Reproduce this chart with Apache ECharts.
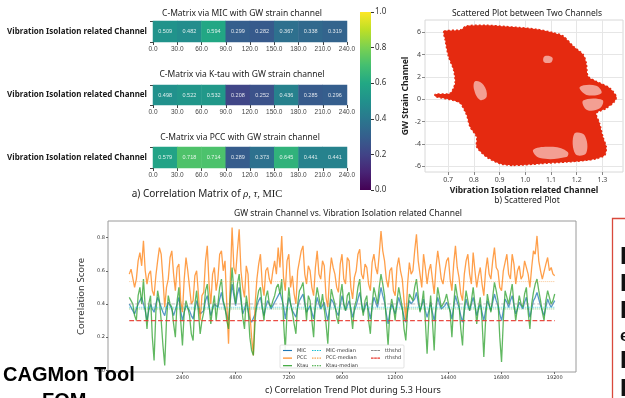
<!DOCTYPE html>
<html><head><meta charset="utf-8">
<script src="https://cdn.jsdelivr.net/npm/echarts@6/dist/echarts.min.js"></script>
<style>html,body{margin:0;padding:0;background:#fff}#c{width:625px;height:398px}</style>
</head><body><div id="c"></div>
<script>
// ---------- data ----------
const heatCols = ['0-30','30-60','60-90','90-120','120-150','150-180','180-210','210-240'];
const heatRow = ['Vibration Isolation related Channel'];
const micValues  = [0.509,0.482,0.594,0.299,0.282,0.367,0.338,0.319];
const ktauValues = [0.498,0.522,0.532,0.208,0.252,0.436,0.285,0.296];
const pccValues  = [0.579,0.718,0.714,0.289,0.373,0.645,0.441,0.441];
const viridis = ['#440154','#482475','#414487','#355f8d','#2a788e','#21918c','#22a884','#44bf70','#7ad151','#bddf26','#fde725'];

// scatter blob outline (x: vibration channel, y: GW strain)
const blobOutline = [[0.684,6.09],[0.747,6.21],[0.772,6.57],[0.850,6.63],[0.927,6.51],[0.979,6.42],[1.044,6.27],[1.108,5.97],[1.147,5.67],[1.186,4.77],[1.225,4.01],[1.237,3.26],[1.244,2.06],[1.276,1.61],[1.328,1.01],[1.354,0.25],[1.347,-0.20],[1.315,-0.80],[1.276,-1.25],[1.289,-2.15],[1.302,-3.36],[1.315,-4.26],[1.309,-5.01],[1.276,-5.31],[1.237,-5.46],[1.160,-5.61],[1.057,-5.76],[0.953,-5.91],[0.902,-5.76],[0.850,-5.16],[0.811,-4.26],[0.811,-3.36],[0.785,-2.45],[0.772,-1.40],[0.747,-0.35],[0.714,-0.05],[0.650,0.25],[0.650,0.46],[0.708,0.55],[0.727,1.46],[0.721,2.66],[0.701,3.86],[0.688,5.37]];
const blobHoles = [
  [[0.805,1.61],[0.837,1.31],[0.850,0.25],[0.824,-0.05],[0.801,0.85]],
  [[1.212,1.10],[1.276,1.22],[1.296,0.55],[1.238,0.40]],
  [[1.225,-0.10],[1.300,-0.05],[1.290,-0.80],[1.240,-0.95]],
  [[1.031,-4.50],[1.108,-4.25],[1.165,-4.70],[1.160,-5.16],[1.057,-5.25]],
  [[1.190,-3.10],[1.230,-3.20],[1.237,-4.80],[1.195,-4.90]],
  [[1.075,3.85],[1.105,3.75],[1.100,3.30],[1.072,3.35]]
];

// correlation trend (one value every 80 s, 0..19200 s)
const trendStep = 80;
const micTrend = [
 0.40,0.38,0.36,0.34,0.33,0.40,0.42,0.44,0.45,0.36,0.30,0.36,0.40,0.37,0.35,0.40,0.44,0.41,0.38,0.35,
 0.33,0.38,0.41,0.39,0.37,0.33,0.32,0.40,0.44,0.36,0.30,0.35,0.39,0.38,0.36,0.33,0.31,0.37,0.42,0.38,
 0.34,0.35,0.36,0.42,0.45,0.38,0.33,0.37,0.40,0.39,0.38,0.43,0.47,0.41,0.37,0.33,0.30,0.42,0.52,0.45,
 0.39,0.46,0.50,0.42,0.34,0.37,0.41,0.36,0.31,0.29,0.28,0.34,0.39,0.42,0.44,0.38,0.33,0.38,0.42,0.40,
 0.37,0.39,0.41,0.43,0.45,0.47,0.48,0.39,0.31,0.38,0.44,0.40,0.36,0.34,0.32,0.38,0.42,0.44,0.46,0.40,
 0.35,0.37,0.39,0.35,0.31,0.38,0.44,0.40,0.37,0.39,0.41,0.35,0.30,0.37,0.43,0.41,0.38,0.35,0.33,0.39,
 0.45,0.40,0.36,0.39,0.42,0.37,0.32,0.36,0.39,0.43,0.47,0.41,0.35,0.38,0.41,0.36,0.31,0.38,0.44,0.41,
 0.38,0.44,0.50,0.45,0.41,0.34,0.28,0.35,0.40,0.37,0.34,0.39,0.44,0.40,0.37,0.32,0.29,0.36,0.42,0.40,
 0.39,0.43,0.47,0.41,0.36,0.39,0.43,0.36,0.32,0.36,0.41,0.35,0.30,0.37,0.44,0.40,0.37,0.38,0.39,0.41,
 0.42,0.36,0.31,0.38,0.45,0.41,0.38,0.33,0.29,0.36,0.43,0.39,0.36,0.40,0.44,0.39,0.33,0.37,0.40,0.35,
 0.30,0.36,0.42,0.39,0.36,0.41,0.46,0.42,0.39,0.34,0.30,0.36,0.43,0.41,0.38,0.42,0.45,0.39,0.34,0.37,
 0.41,0.39,0.37,0.41,0.44,0.38,0.32,0.37,0.42,0.44,0.47,0.43,0.39,0.36,0.33,0.38,0.43,0.40,0.38,0.40,
 0.42];
const pccTrend = [
 0.58,0.61,0.62,0.50,0.55,0.66,0.71,0.63,0.78,0.60,0.52,0.58,0.60,0.48,0.45,0.57,0.66,0.74,0.70,0.55,
 0.38,0.50,0.55,0.68,0.72,0.58,0.48,0.62,0.64,0.42,0.35,0.55,0.68,0.60,0.50,0.40,0.42,0.57,0.60,0.46,
 0.30,0.45,0.47,0.66,0.75,0.52,0.40,0.58,0.62,0.48,0.55,0.70,0.72,0.60,0.66,0.40,0.16,0.55,0.86,0.62,
 0.58,0.72,0.85,0.60,0.50,0.44,0.63,0.58,0.35,0.20,0.09,0.40,0.55,0.64,0.70,0.52,0.45,0.60,0.62,0.55,
 0.52,0.60,0.66,0.58,0.74,0.62,0.81,0.56,0.48,0.66,0.70,0.50,0.57,0.46,0.40,0.60,0.66,0.72,0.75,0.58,
 0.52,0.63,0.60,0.50,0.45,0.62,0.72,0.58,0.55,0.66,0.63,0.44,0.38,0.57,0.68,0.62,0.58,0.50,0.47,0.64,
 0.70,0.55,0.52,0.68,0.66,0.50,0.43,0.56,0.60,0.70,0.73,0.58,0.55,0.64,0.62,0.52,0.48,0.65,0.70,0.62,
 0.58,0.70,0.84,0.72,0.66,0.55,0.50,0.60,0.62,0.48,0.45,0.62,0.68,0.60,0.55,0.42,0.30,0.52,0.65,0.58,
 0.60,0.72,0.82,0.66,0.58,0.50,0.70,0.62,0.52,0.60,0.64,0.55,0.46,0.62,0.72,0.64,0.55,0.52,0.60,0.66,
 0.68,0.55,0.48,0.64,0.75,0.62,0.56,0.46,0.42,0.58,0.66,0.70,0.58,0.52,0.71,0.60,0.50,0.57,0.62,0.52,
 0.45,0.60,0.68,0.58,0.55,0.66,0.74,0.62,0.60,0.50,0.48,0.60,0.65,0.70,0.58,0.55,0.70,0.64,0.52,0.60,
 0.63,0.55,0.57,0.66,0.66,0.58,0.50,0.62,0.72,0.70,0.81,0.66,0.60,0.55,0.55,0.64,0.68,0.60,0.62,0.58,
 0.57];
const ktauTrend = [
 0.44,0.42,0.40,0.33,0.30,0.45,0.50,0.40,0.55,0.38,0.25,0.40,0.45,0.20,0.06,0.35,0.48,0.42,0.30,0.15,
 0.03,0.30,0.45,0.40,0.38,0.28,0.20,0.42,0.50,0.30,0.15,0.35,0.42,0.38,0.33,0.22,0.18,0.40,0.48,0.35,
 0.22,0.30,0.35,0.48,0.52,0.40,0.28,0.38,0.45,0.30,0.40,0.50,0.55,0.42,0.38,0.30,0.25,0.45,0.62,0.48,
 0.40,0.52,0.58,0.45,0.32,0.25,0.45,0.38,0.20,0.12,0.09,0.30,0.42,0.48,0.50,0.38,0.30,0.44,0.48,0.40,
 0.38,0.42,0.45,0.50,0.52,0.46,0.55,0.30,0.12,0.35,0.50,0.40,0.35,0.28,0.22,0.40,0.48,0.50,0.53,0.42,
 0.30,0.45,0.42,0.30,0.20,0.42,0.50,0.44,0.38,0.46,0.45,0.28,0.16,0.38,0.49,0.44,0.40,0.32,0.28,0.45,
 0.52,0.40,0.36,0.45,0.47,0.35,0.25,0.38,0.42,0.50,0.55,0.40,0.33,0.42,0.45,0.30,0.22,0.40,0.50,0.45,
 0.40,0.50,0.58,0.52,0.45,0.30,0.15,0.35,0.43,0.38,0.30,0.42,0.50,0.44,0.38,0.25,0.18,0.36,0.46,0.44,
 0.42,0.50,0.55,0.45,0.35,0.40,0.48,0.30,0.10,0.32,0.45,0.30,0.12,0.38,0.50,0.44,0.38,0.40,0.42,0.46,
 0.47,0.35,0.20,0.40,0.52,0.45,0.40,0.25,0.15,0.38,0.48,0.42,0.36,0.42,0.50,0.40,0.28,0.38,0.44,0.30,
 0.08,0.30,0.46,0.40,0.35,0.44,0.53,0.48,0.42,0.20,0.05,0.30,0.48,0.44,0.40,0.46,0.52,0.40,0.30,0.38,
 0.45,0.40,0.38,0.46,0.50,0.35,0.25,0.40,0.47,0.52,0.55,0.48,0.42,0.35,0.30,0.42,0.48,0.44,0.40,0.42,
 0.46];
const micMedian = 0.38, pccMedian = 0.535, ktauMedian = 0.37, tThreshold = 0.40, rThreshold = 0.30;
const trendXTicks = [2400,4800,7200,9600,12000,14400,16800,19200];
const trendYTicks = [0.0,0.2,0.4,0.6,0.8];
const scatterXTicks = [0.7,0.8,0.9,1.0,1.1,1.2,1.3];
const scatterYTicks = [-6,-4,-2,0,2,4,6];
const cbarTicks = [0,0.2,0.4,0.6,0.8,1.0];

// ---------- chart ----------
const chart = echarts.init(document.getElementById('c'), null, {renderer:'canvas'});
const FONT = '"Noto Sans", "Open Sans", sans-serif';
const t = (arr) => arr.map((v,i)=>[i*trendStep, v]);
const heat = (arr) => arr.map((v,i)=>[i,0,v]);
const heatTops = [21, 85, 147], heatHeights = [21, 20, 21];

const grids = heatTops.map((tp,i)=>({left:153, top:tp, width:194, height:heatHeights[i]}));
grids.push({left:360, top:12, width:11, height:178});
grids.push({left:425, top:20, width:198, height:152, show:true, borderColor:'#d8d8d8', borderWidth:1, backgroundColor:'#fff'});
grids.push({left:108, top:221, width:468, height:151, show:true, borderColor:'#9a9a9a', borderWidth:1});

const xAxes = [], yAxes = [];
for (let g=0; g<3; g++) {
  xAxes.push({type:'category', gridIndex:g, data:heatCols, position:'top', show:false});
  xAxes.push({type:'value', gridIndex:g, min:0, max:240, interval:30, position:'bottom',
    axisLine:{show:false, onZero:false}, splitLine:{show:false},
    axisTick:{show:true, length:3, lineStyle:{color:'#444'}},
    axisLabel:{fontSize:6.5, color:'#444', margin:4, fontFamily:'Liberation Sans', formatter:v=>v.toFixed(1)}});
  yAxes.push({type:'category', gridIndex:g, data:heatRow, axisLine:{show:false, onZero:false},
    axisTick:{show:true, length:3, lineStyle:{color:'#444'}},
    axisLabel:{fontSize:8, color:'#1a1a1a', fontWeight:'bold', margin:6, fontFamily:FONT}});
}
// colorbar
xAxes.push({type:'category', gridIndex:3, data:['cb'], show:false});
yAxes.push({type:'value', gridIndex:3, min:0, max:1, position:'right',
  axisLine:{show:false, onZero:false}, splitLine:{show:false},
  axisTick:{show:true, length:3, customValues:cbarTicks, lineStyle:{color:'#333'}},
  axisLabel:{fontSize:8, color:'#333', margin:4, fontFamily:FONT, customValues:cbarTicks, formatter:v=>v.toFixed(1)}});
// scatter
xAxes.push({type:'value', gridIndex:4, min:0.61, max:1.38,
  name:'Vibration Isolation related Channel', nameLocation:'middle', nameGap:14,
  nameTextStyle:{fontSize:8.5, color:'#222', fontWeight:'bold', fontFamily:FONT},
  axisLine:{show:false, onZero:false},
  axisTick:{show:true, length:3, customValues:scatterXTicks, lineStyle:{color:'#888'}},
  axisLabel:{fontSize:7, color:'#444', margin:4, fontFamily:FONT, customValues:scatterXTicks, formatter:v=>v.toFixed(1)},
  splitLine:{show:true, lineStyle:{color:'#e6e6e6', width:1}}});
yAxes.push({type:'value', gridIndex:4, min:-6.5, max:7.1,
  name:'GW Strain Channel', nameLocation:'middle', nameGap:15, nameRotate:90,
  nameTextStyle:{fontSize:8.5, color:'#222', fontWeight:'bold', fontFamily:FONT},
  axisLine:{show:false, onZero:false},
  axisTick:{show:true, length:3, customValues:scatterYTicks, lineStyle:{color:'#888'}},
  axisLabel:{fontSize:7, color:'#444', margin:4, fontFamily:FONT, customValues:scatterYTicks},
  splitLine:{show:true, lineStyle:{color:'#e6e6e6', width:1}}});
// trend
xAxes.push({type:'value', gridIndex:5, min:-960, max:20160,
  axisLine:{show:false, onZero:false}, splitLine:{show:false},
  axisTick:{show:true, length:2, customValues:trendXTicks, lineStyle:{color:'#666'}},
  axisLabel:{fontSize:5, color:'#333', margin:3, fontFamily:'DejaVu Sans', customValues:trendXTicks, formatter:v=>String(v)}});
yAxes.push({type:'value', gridIndex:5, min:-0.01, max:0.90,
  name:'Correlation Score', nameLocation:'middle', nameGap:16, nameRotate:90,
  nameTextStyle:{fontSize:9.5, color:'#333', fontFamily:FONT},
  axisLine:{show:false, onZero:false}, splitLine:{show:false},
  axisTick:{show:true, length:2, customValues:trendYTicks, lineStyle:{color:'#666'}},
  axisLabel:{fontSize:5, color:'#333', margin:3, fontFamily:'DejaVu Sans', customValues:trendYTicks, formatter:v=>v.toFixed(1)}});

const heatSeries = [micValues, ktauValues, pccValues].map((arr,g)=>({
  type:'heatmap', xAxisIndex:g*2, yAxisIndex:g, data:heat(arr),
  label:{show:true, fontSize:5.5, color:'rgba(255,255,255,0.85)', fontFamily:'Liberation Sans', formatter:p=>p.value[2].toFixed(3)},
  itemStyle:{borderWidth:0}, emphasis:{disabled:true}
}));

const cbarGradient = new echarts.graphic.LinearGradient(0,0,0,1, viridis.slice().reverse().map((c,i)=>({offset:i/(viridis.length-1), color:c})));

const blobSeries = {
  type:'custom', xAxisIndex:7, yAxisIndex:4, data:[0], silent:true,
  renderItem:(params, api)=>({type:'group', children:[
    {type:'polygon', shape:{points:blobOutline.map(p=>api.coord(p)), smooth:0.25}, style:{fill:'#e52a10', stroke:'#e52a10', lineWidth:1.5, lineDash:[2,2]}},
    ...blobHoles.map(h=>({type:'polygon', shape:{points:h.map(p=>api.coord(p)), smooth:0.4}, style:{fill:'rgba(255,255,255,0.55)'}}))
  ]})
};

const lineBase = {type:'line', xAxisIndex:8, yAxisIndex:5, showSymbol:false, symbol:'none', silent:true};
const medLine = (v)=>[[0,v],[trendStep*(micTrend.length-1),v]];
const series = [
  ...heatSeries,
  {type:'bar', xAxisIndex:6, yAxisIndex:3, data:[1], barWidth:'100%', silent:true, itemStyle:{color:cbarGradient}},
  blobSeries,
  {...lineBase, name:'MIC', data:t(micTrend), lineStyle:{color:'#1f77b4', width:1.3, opacity:0.75}, itemStyle:{color:'#1f77b4'}},
  {...lineBase, name:'PCC', data:t(pccTrend), lineStyle:{color:'#ff7f0e', width:1.3, opacity:0.75}, itemStyle:{color:'#ff7f0e'}},
  {...lineBase, name:'Ktau', data:t(ktauTrend), lineStyle:{color:'#2ca02c', width:1.3, opacity:0.75}, itemStyle:{color:'#2ca02c'}},
  {...lineBase, name:'MIC-median', data:medLine(micMedian), lineStyle:{color:'#17becf', width:1, type:'dotted', opacity:0.7}, itemStyle:{color:'#17becf'}},
  {...lineBase, name:'PCC-median', data:medLine(pccMedian), lineStyle:{color:'#f5a14e', width:1, type:'dotted', opacity:0.6}, itemStyle:{color:'#f5a14e'}},
  {...lineBase, name:'Ktau-median', data:medLine(ktauMedian), lineStyle:{color:'#2ca02c', width:1, type:'dotted', opacity:0.6}, itemStyle:{color:'#2ca02c'}},
  {...lineBase, name:'tthshd', data:medLine(tThreshold), lineStyle:{color:'#8c8c8c', width:1, type:'dashed', opacity:0.6}, itemStyle:{color:'#8c8c8c'}},
  {...lineBase, name:'rthshd', data:medLine(rThreshold), lineStyle:{color:'#e8382f', width:1.2, type:'dashed', opacity:0.9}, itemStyle:{color:'#e8382f'}}
];

const solidIcon = 'path://M0,0h12v1.5h-12z';
const dottedIcon = 'path://M0,0h2v1.5h-2z M3.3,0h2v1.5h-2z M6.6,0h2v1.5h-2z M10,0h2v1.5h-2z';
const dashedIcon = 'path://M0,0h3.5v1.5h-3.5z M4.25,0h3.5v1.5h-3.5z M8.5,0h3.5v1.5h-3.5z';
const legendBase = {orient:'vertical', top:348, itemWidth:9, itemHeight:1.2, itemGap:2.6, padding:0,
  textStyle:{fontSize:5, color:'#333', fontFamily:'DejaVu Sans'}, selectedMode:false, z:10};

const txt = (text, x, y, size, opts={}) => ({type:'text', z:20, style:Object.assign({text, x, y, font:(opts.weight||'normal')+' '+size+'px '+(opts.family||FONT), fill:opts.color||'#222', textAlign:opts.align||'center', textVerticalAlign:'middle'}, opts.extra||{})});

chart.setOption({
  animation:false,
  backgroundColor:'#fff',
  visualMap:{type:'continuous', show:false, min:0, max:1, seriesIndex:[0,1,2], inRange:{color:viridis}},
  grid:grids, xAxis:xAxes, yAxis:yAxes, series,
  legend:[
    {...legendBase, left:283, data:[{name:'MIC',icon:solidIcon},{name:'PCC',icon:solidIcon},{name:'Ktau',icon:solidIcon}]},
    {...legendBase, left:312, data:[{name:'MIC-median',icon:dottedIcon},{name:'PCC-median',icon:dottedIcon},{name:'Ktau-median',icon:dottedIcon}]},
    {...legendBase, left:371, data:[{name:'tthshd',icon:dashedIcon},{name:'rthshd',icon:dashedIcon}]}
  ],
  graphic:[
    {type:'rect', z:5, shape:{x:280, y:345, width:124, height:23, r:1}, style:{fill:'rgba(255,255,255,0.9)', stroke:'#d0d0d0', lineWidth:0.6}},
    txt('C-Matrix via MIC with GW strain channel', 242, 14, 8.5),
    txt('C-Matrix via K-tau with GW strain channel', 242, 75, 8.5),
    txt('C-Matrix via PCC with GW strain channel', 240, 138, 8.5),
    {type:'text', z:20, style:{x:207, y:194, textAlign:'center', textVerticalAlign:'middle',
      text:'{a|a) Correlation Matrix of }{b|ρ, τ,}{c| MIC}',
      rich:{a:{font:'10px '+FONT, fill:'#222'}, b:{font:'italic 10.5px "Liberation Serif", serif', fill:'#222'}, c:{font:'10.5px "Liberation Serif", serif', fill:'#222'}}}},
    txt('Scattered Plot between Two Channels', 527, 14, 8.5),
    txt('b) Scattered Plot', 527, 201, 8.5),
    txt('GW strain Channel vs. Vibration Isolation related Channel', 348, 214, 8.5),
    txt('c) Correlation Trend Plot during 5.3 Hours', 353, 390, 9),
    {type:'rect', z:20, shape:{x:612.5, y:218.5, width:30, height:200}, style:{fill:'none', stroke:'#d9493c', lineWidth:1.3}},
    txt('P', 620, 257, 24, {weight:'bold', family:'"Liberation Sans", sans-serif', align:'left', color:'#111'}),
    txt('R', 620, 284, 24, {weight:'bold', family:'"Liberation Sans", sans-serif', align:'left', color:'#111'}),
    txt('B', 620, 311, 24, {weight:'bold', family:'"Liberation Sans", sans-serif', align:'left', color:'#111'}),
    txt('e', 620, 336, 17, {weight:'bold', family:'"Liberation Sans", sans-serif', align:'left', color:'#111'}),
    txt('B', 620, 361, 24, {weight:'bold', family:'"Liberation Sans", sans-serif', align:'left', color:'#111'}),
    txt('P', 620, 389, 24, {weight:'bold', family:'"Liberation Sans", sans-serif', align:'left', color:'#111'}),
    txt('CAGMon Tool', 3, 375, 20, {weight:'bold', family:'"Liberation Sans", sans-serif', align:'left', color:'#000'}),
    txt('FOM', 42, 401, 20, {weight:'bold', family:'"Liberation Sans", sans-serif', align:'left', color:'#000'})
  ]
});
</script></body></html>
